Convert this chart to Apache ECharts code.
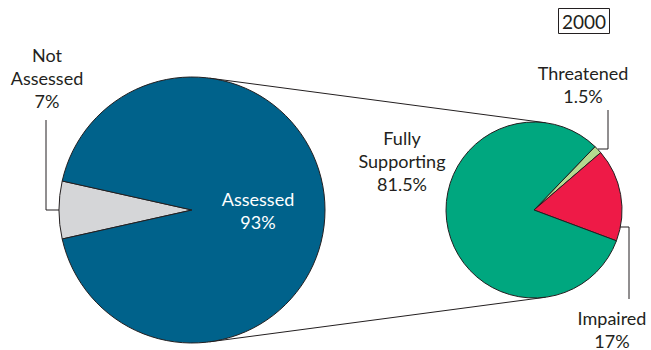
<!DOCTYPE html>
<html>
<head>
<meta charset="utf-8">
<script src="https://cdn.jsdelivr.net/npm/echarts@6/dist/echarts.min.js"></script>
<style>
  html, body { margin: 0; padding: 0; background: #fff; }
  #main { width: 651px; height: 350px; }
</style>
</head>
<body>
<div id="main"></div>
<script>
// data
var yearLabel = '2000';
var allNames = ['Not Assessed', 'Assessed'];
var allValues = [7, 93];
var assessedNames = ['Threatened', 'Impaired', 'Fully Supporting'];
var assessedValues = [1.5, 17, 81.5];

// layout
var bigC = [192, 210], bigR = 133;
var smallC = [534, 210], smallR = 88;
var ink = '#231F20';
var font = 'Lato, "Open Sans", sans-serif';

// where each label sits, and its leader line
var labelPos = {
	'Not Assessed': { x: 47, y: 78, line: [[59, 210], [46, 210], [46, 120]] },
	'Assessed': { x: 258, y: 210 },
	'Fully Supporting': { x: 402, y: 161 },
	'Threatened': { x: 583, y: 84, line: [[598, 149], [608, 149], [608, 110]] },
	'Impaired': { x: 612, y: 329, line: [[618, 227], [629, 227], [629, 299]] }
};

function fmt(p) {
	return p.name.replace(' ', '\n') + '\n' + p.value + '%';
}

function layoutFor(names) {
	return function(params) {
		var pos = labelPos[names[params.dataIndex]];
		var o = { x: pos.x, y: pos.y, align: 'center', verticalAlign: 'middle' };
		if (pos.line) o.labelLinePoints = pos.line;
		return o;
	};
}

// outer tangent lines between the two pies
var th = Math.acos((bigR - smallR) / (smallC[0] - bigC[0]));
function tangent(sign) {
	var cx = Math.cos(th), sy = Math.sin(th) * sign;
	return {
		type: 'line',
		silent: true,
		shape: {
			x1: bigC[0] + bigR * cx, y1: bigC[1] + bigR * sy,
			x2: smallC[0] + smallR * cx, y2: smallC[1] + smallR * sy
		},
		style: { stroke: ink, lineWidth: 1 },
		z: -1
	};
}

var myChart = echarts.init(document.getElementById('main'), null, { renderer: 'svg' });

var colorsAll = ['#D5D6D8', '#00628B'];
var colorsAssessed = ['#B4DA8F', '#EE1A47', '#00A77F'];

var option = {
	animation: false,
	title: {
		text: yearLabel,
		left: 558,
		top: 8,
		padding: [4, 4, 3, 4],
		borderColor: ink,
		borderWidth: 1,
		textStyle: { color: ink, fontFamily: font, fontSize: 19, fontWeight: 'normal' }
	},
	graphic: [tangent(-1), tangent(1)],
	series: [{
		name: 'all',
		type: 'pie',
		center: bigC,
		radius: bigR,
		startAngle: 180 + allValues[0] / 100 * 180,
		avoidLabelOverlap: false,
		silent: true,
		itemStyle: { borderColor: ink, borderWidth: 1 },
		label: {
			formatter: fmt,
			color: ink,
			fontFamily: font,
			fontSize: 18,
			lineHeight: 23
		},
		labelLine: { show: true, lineStyle: { color: ink, width: 1 } },
		labelLayout: layoutFor(allNames),
		data: allNames.map(function(n, i) {
			var d = { name: n, value: allValues[i], itemStyle: { color: colorsAll[i] } };
			if (n === 'Assessed') {
				d.label = { position: 'inside', color: '#fff' };
				d.labelLine = { show: false };
			}
			return d;
		})
	}, {
		name: 'assessed',
		type: 'pie',
		center: smallC,
		radius: smallR,
		startAngle: -20.5 + (assessedValues[0] + assessedValues[1]) / 100 * 360,
		avoidLabelOverlap: false,
		silent: true,
		itemStyle: { borderColor: ink, borderWidth: 1 },
		label: {
			formatter: fmt,
			color: ink,
			fontFamily: font,
			fontSize: 18,
			lineHeight: 23
		},
		labelLine: { show: true, lineStyle: { color: ink, width: 1 } },
		labelLayout: layoutFor(assessedNames),
		data: assessedNames.map(function(n, i) {
			var d = { name: n, value: assessedValues[i], itemStyle: { color: colorsAssessed[i] } };
			if (n === 'Fully Supporting') d.labelLine = { show: false };
			return d;
		})
	}]
};

myChart.setOption(option);
</script>
</body>
</html>
